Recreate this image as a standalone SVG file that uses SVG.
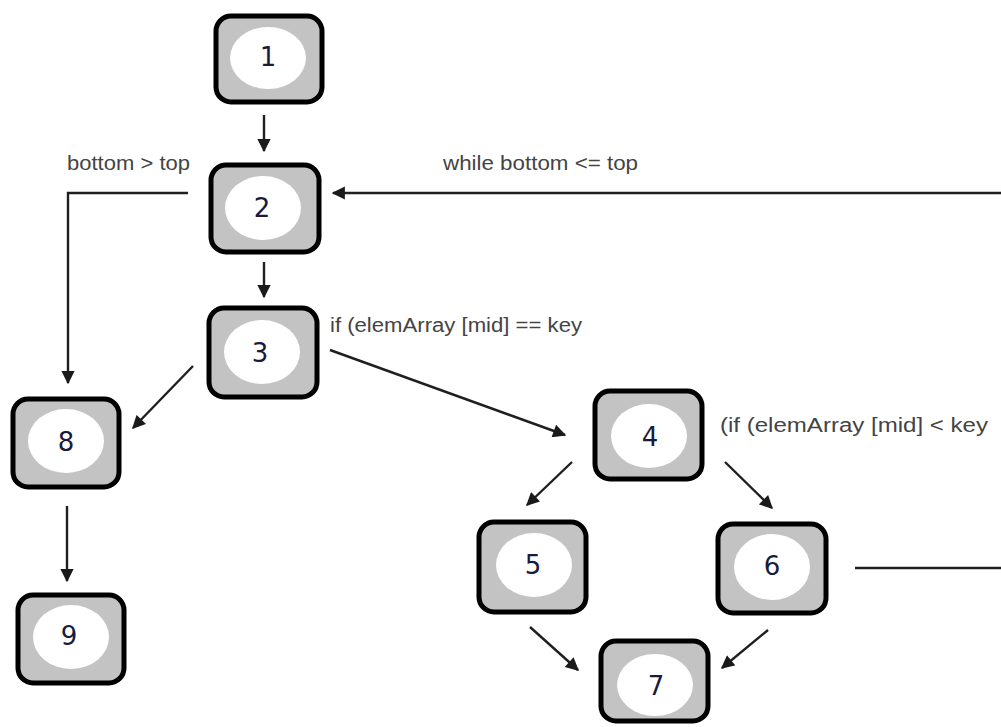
<svg xmlns="http://www.w3.org/2000/svg" width="1001" height="727" viewBox="0 0 1001 727">
  <defs>
    <marker id="arrow" viewBox="0 0 10 10" refX="9" refY="5" markerWidth="6" markerHeight="5.5" orient="auto" markerUnits="strokeWidth">
      <path d="M0,0 L10,5 L0,10 z" fill="#1a1a1a"/>
    </marker>
  </defs>
  <style>
    .box { fill: #c3c3c3; stroke: #000; stroke-width: 5; }
    .hole { fill: #fff; }
    .num { font-family: "DejaVu Sans", "Liberation Sans", sans-serif; font-size: 26px; fill: #1a1a3a; text-anchor: middle; dominant-baseline: central; }
    .lbl { font-family: "Liberation Sans", Arial, sans-serif; font-size: 20px; fill: #444; }
    .edge { fill: none; stroke: #1f1f1f; stroke-width: 2.4; }
    .edge.head { marker-end: url(#arrow); }
  </style>
  <rect width="1001" height="727" fill="#fff"/>

  <!-- connectors -->
  <g id="connectors">
    <path class="edge head" d="M264,115 L264,151"/>
    <path class="edge head" d="M264,262 L264,297"/>
    <path class="edge head" d="M188,193 L68,193 L68,383"/>
    <path class="edge head" d="M1001,193 L333,193"/>
    <path class="edge head" d="M330,350 L565,435"/>
    <path class="edge head" d="M193,366 L133,428"/>
    <path class="edge head" d="M572,462 L527,505"/>
    <path class="edge head" d="M725,462 L772,508"/>
    <path class="edge" d="M855,568 L1001,568"/>
    <path class="edge head" d="M67,506 L67,581"/>
    <path class="edge head" d="M530,627 L578,670"/>
    <path class="edge head" d="M768,630 L722,668"/>
  </g>

  <!-- edge labels -->
  <g id="labels">
    <text class="lbl" x="67" y="170" textLength="123" lengthAdjust="spacingAndGlyphs">bottom &gt; top</text>
    <text class="lbl" x="443" y="170" textLength="195" lengthAdjust="spacingAndGlyphs">while bottom &lt;= top</text>
    <text class="lbl" x="330" y="332" textLength="252" lengthAdjust="spacingAndGlyphs">if (elemArray [mid] == key</text>
    <text class="lbl" x="720" y="432" textLength="268" lengthAdjust="spacingAndGlyphs">(if (elemArray [mid] &lt; key</text>
  </g>

  <!-- nodes -->
  <g id="node1">
    <rect class="box" x="216" y="16" width="106" height="86" rx="15"/>
    <ellipse class="hole" cx="268" cy="58" rx="38" ry="31"/>
    <text class="num" x="268" y="57">1</text>
  </g>
  <g id="node2">
    <rect class="box" x="211" y="165" width="108" height="87" rx="15"/>
    <ellipse class="hole" cx="263" cy="208" rx="38" ry="32"/>
    <text class="num" x="262" y="208">2</text>
  </g>
  <g id="node3">
    <rect class="box" x="209" y="308" width="108" height="89" rx="15"/>
    <ellipse class="hole" cx="262" cy="352" rx="38" ry="32"/>
    <text class="num" x="260" y="353">3</text>
  </g>
  <g id="node4">
    <rect class="box" x="595" y="391" width="107" height="88" rx="15"/>
    <ellipse class="hole" cx="649" cy="436" rx="38" ry="32"/>
    <text class="num" x="650" y="437">4</text>
  </g>
  <g id="node5">
    <rect class="box" x="479" y="522" width="107" height="90" rx="15"/>
    <ellipse class="hole" cx="534" cy="565" rx="38" ry="32"/>
    <text class="num" x="533" y="565">5</text>
  </g>
  <g id="node6">
    <rect class="box" x="718" y="524" width="108" height="89" rx="15"/>
    <ellipse class="hole" cx="772" cy="567" rx="38" ry="33"/>
    <text class="num" x="772" y="566">6</text>
  </g>
  <g id="node7">
    <rect class="box" x="601" y="641" width="107" height="80" rx="15"/>
    <ellipse class="hole" cx="655" cy="685" rx="38" ry="31"/>
    <text class="num" x="656" y="686">7</text>
  </g>
  <g id="node8">
    <rect class="box" x="13" y="399" width="106" height="88" rx="15"/>
    <ellipse class="hole" cx="66" cy="441" rx="38" ry="32"/>
    <text class="num" x="66" y="442">8</text>
  </g>
  <g id="node9">
    <rect class="box" x="18" y="595" width="106" height="88" rx="15"/>
    <ellipse class="hole" cx="71" cy="637" rx="38" ry="32"/>
    <text class="num" x="69" y="636">9</text>
  </g>
</svg>
